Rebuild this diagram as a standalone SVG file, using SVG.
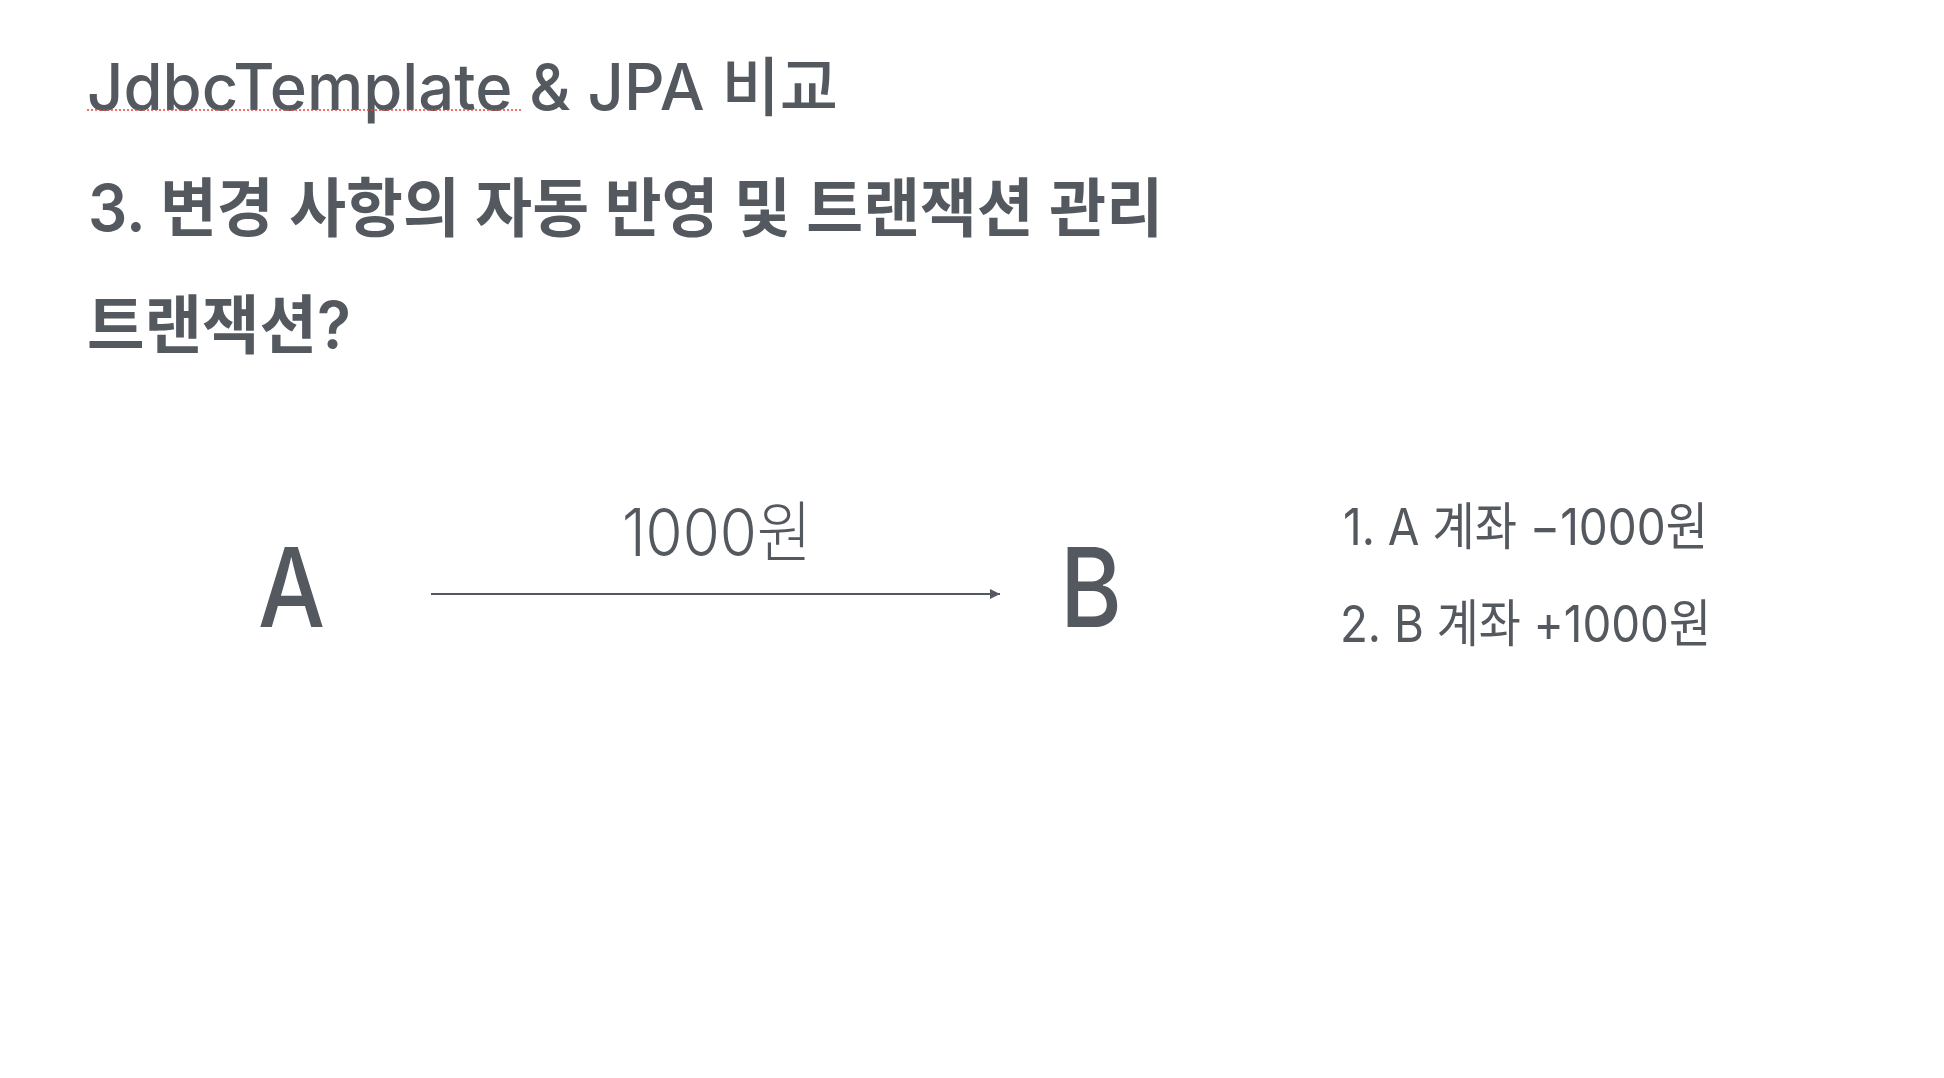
<svg xmlns="http://www.w3.org/2000/svg" width="1944" height="1078" viewBox="0 0 1944 1078">
  <defs>
    <style>
      text { fill: #54585f; font-family: Inter, "Noto Sans", "Noto Sans CJK KR", sans-serif; }
      .h { font-weight: 500; font-size: 64px; }
      .hb { font-weight: 600; font-size: 64px; }
      .node { font-weight: 500; font-size: 110px; }
      .lbl { font-weight: 300; font-size: 66px; }
      .item { font-weight: 400; font-size: 51px; }
      .conn { stroke: #54585f; stroke-width: 2; fill: none; }
    </style>
    <marker id="arrow" viewBox="0 0 10 10" refX="10" refY="5" markerWidth="10" markerHeight="10" markerUnits="userSpaceOnUse" orient="auto">
      <path d="M0,0 L10,5 L0,10 Z" fill="#54585f"/>
    </marker>
  </defs>
  <rect width="1944" height="1078" fill="#ffffff"/>

  <g id="titles">
    <text class="h" x="87" y="110" textLength="751" lengthAdjust="spacingAndGlyphs">JdbcTemplate &amp; JPA 비교</text>
    <line x1="87" y1="110" x2="521" y2="110" stroke="#e8453c" stroke-width="1.5" stroke-dasharray="2,2"/>
    <text class="hb" x="88" y="231" textLength="1075" lengthAdjust="spacingAndGlyphs">3. 변경 사항의 자동 반영 및 트랜잭션 관리</text>
    <text class="hb" x="87" y="348" textLength="264" lengthAdjust="spacingAndGlyphs">트랜잭션?</text>
  </g>

  <g id="node-A">
    <text class="node" x="258" y="627" textLength="67" lengthAdjust="spacingAndGlyphs">A</text>
  </g>
  <g id="node-B">
    <text class="node" x="1060" y="627" textLength="62" lengthAdjust="spacingAndGlyphs">B</text>
  </g>

  <g id="connectors">
    <line class="conn" x1="431" y1="594" x2="1000" y2="594" marker-end="url(#arrow)"/>
    <text class="lbl" x="622" y="556" textLength="190" lengthAdjust="spacingAndGlyphs">1000원</text>
  </g>

  <g id="steps">
    <text class="item" x="1343" y="545" textLength="365" lengthAdjust="spacingAndGlyphs">1. A 계좌 −1000원</text>
    <text class="item" x="1340" y="642" textLength="371" lengthAdjust="spacingAndGlyphs">2. B 계좌 +1000원</text>
  </g>
</svg>
